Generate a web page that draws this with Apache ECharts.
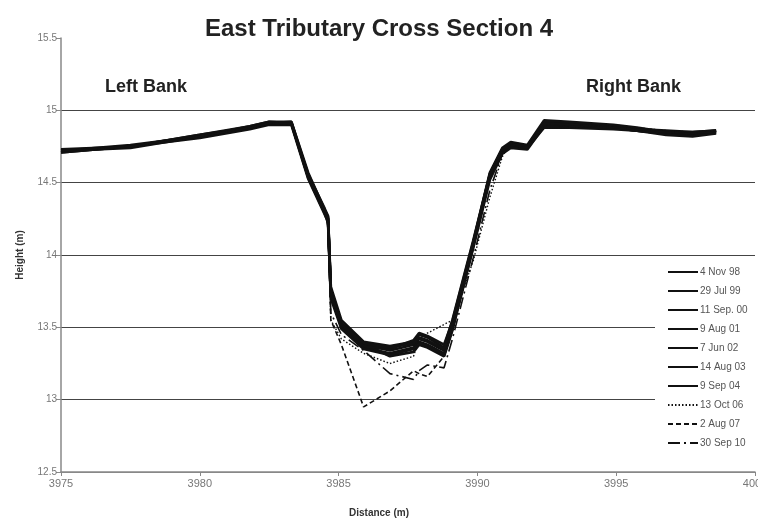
<!DOCTYPE html>
<html>
<head>
<meta charset="utf-8">
<script src="https://cdn.jsdelivr.net/npm/echarts@6/dist/echarts.min.js"></script>
<style>
  html, body { margin: 0; padding: 0; background: #fff; }
  #chart { width: 758px; height: 520px; }
</style>
</head>
<body>
<div id="chart"></div>
<script>
// Surveyed chainage across the channel (m)
const dist = [3975, 3977.5, 3980, 3981.8, 3982.5, 3983.3, 3983.9, 3984.5, 3984.62, 3984.72,
  3985.1, 3985.9, 3986.85, 3987.7, 3987.9, 3988.2, 3988.8, 3989.1, 3989.85, 3990.45,
  3990.9, 3991.2, 3991.8, 3992.4, 3993.3, 3994.9, 3995.75, 3996.8, 3997.75, 3998.6];

// Bed heights (m) for each survey
const nov98 = [14.72,14.75,14.82,14.88,14.91,14.91,14.55,14.30,14.25,13.75,13.52,13.38,13.34,13.38,13.42,13.40,13.34,13.52,14.08,14.55,14.72,14.76,14.74,14.91,14.90,14.88,14.86,14.84,14.84,14.85];
const jul99 = [14.71,14.75,14.83,14.89,14.92,14.92,14.57,14.31,14.26,13.78,13.55,13.40,13.37,13.40,13.45,13.43,13.36,13.55,14.10,14.56,14.73,14.77,14.75,14.92,14.91,14.89,14.87,14.85,14.84,14.86];
const sep00 = [14.72,14.76,14.82,14.88,14.91,14.91,14.54,14.29,14.24,13.72,13.50,13.36,13.32,13.36,13.40,13.38,13.32,13.50,14.06,14.54,14.71,14.75,14.74,14.90,14.90,14.88,14.86,14.84,14.83,14.85];
const aug01 = [14.73,14.75,14.81,14.87,14.90,14.90,14.53,14.28,14.23,13.76,13.53,13.39,13.30,13.33,13.38,13.36,13.30,13.48,14.05,14.52,14.70,14.74,14.73,14.89,14.89,14.88,14.87,14.86,14.85,14.86];
const jun02 = [14.72,14.74,14.82,14.89,14.92,14.91,14.56,14.32,14.27,13.74,13.51,13.37,13.35,13.41,13.46,13.44,13.38,13.54,14.09,14.57,14.74,14.78,14.76,14.93,14.92,14.90,14.88,14.85,14.84,14.85];
const aug03 = [14.71,14.75,14.83,14.88,14.91,14.92,14.55,14.30,14.25,13.70,13.49,13.35,13.31,13.35,13.39,13.37,13.31,13.49,14.07,14.55,14.72,14.76,14.75,14.91,14.90,14.88,14.86,14.83,14.82,14.84];
const sep04 = [14.72,14.75,14.82,14.88,14.91,14.91,14.54,14.29,14.22,13.73,13.52,13.39,13.36,13.39,13.43,13.41,13.35,13.51,14.08,14.56,14.73,14.77,14.74,14.88,14.88,14.87,14.86,14.85,14.85,14.86];
const oct06 = [14.72,14.75,14.82,14.88,14.91,14.90,14.55,14.30,14.22,13.55,13.42,13.32,13.25,13.30,13.42,13.46,13.52,13.55,13.96,14.40,14.68,14.78,14.76,14.88,14.88,14.90,14.88,14.86,14.85,14.86];
const aug07 = [14.72,14.75,14.82,14.88,14.91,14.91,14.55,14.30,14.20,13.55,13.38,12.95,13.06,13.20,13.18,13.16,13.30,13.48,14.05,14.55,14.72,14.76,14.74,14.90,14.89,14.88,14.87,14.85,14.84,14.86];
const sep10 = [14.72,14.75,14.82,14.88,14.91,14.91,14.55,14.30,14.22,13.60,13.45,13.34,13.18,13.14,13.20,13.24,13.22,13.42,13.98,14.45,14.70,14.77,14.75,14.89,14.89,14.88,14.87,14.85,14.84,14.85];

const surveyNames = ['4 Nov 98', '29 Jul 99', '11 Sep. 00', '9 Aug 01', '7 Jun 02',
  '14 Aug 03', '9 Sep 04', '13 Oct 06', '2 Aug 07', '30 Sep 10'];
const surveyHeights = [nov98, jul99, sep00, aug01, jun02, aug03, sep04, oct06, aug07, sep10];

// Axis ranges and ticks
const yTicks = [12.5, 13, 13.5, 14, 14.5, 15, 15.5];
const xTicks = [3975, 3980, 3985, 3990, 3995, 4000];

const sans = "'Liberation Sans', Arial, sans-serif";

const lineTypes = ['solid', 'solid', 'solid', 'solid', 'solid', 'solid', 'solid',
  [1.5, 2], [5, 3], [12, 4, 2, 4]];
const lineWidths = [2.7, 2.7, 2.7, 2.7, 2.7, 2.7, 2.7, 1.4, 1.6, 1.6];

const series = surveyNames.map((name, i) => ({
  name: name,
  type: 'line',
  data: dist.map((d, k) => [d, surveyHeights[i][k]]),
  showSymbol: false,
  symbol: 'none',
  smooth: false,
  silent: true,
  z: i >= 7 ? 3 : 2,
  lineStyle: { color: '#111', width: lineWidths[i], type: lineTypes[i] },
  itemStyle: { color: '#111' }
}));

const chart = echarts.init(document.getElementById('chart'), null, { renderer: 'canvas' });
chart.setOption({
  animation: false,
  backgroundColor: '#fff',
  title: {
    text: 'East Tributary Cross Section 4',
    left: 'center',
    top: 12,
    textStyle: { fontFamily: sans, fontSize: 24, fontWeight: 'bold', color: '#222' }
  },
  graphic: [
    { type: 'text', left: 105, top: 78, style: { text: 'Left Bank', fontFamily: sans, fontSize: 18, fontWeight: 'bold', fill: '#222' } },
    { type: 'text', left: 586, top: 78, style: { text: 'Right Bank', fontFamily: sans, fontSize: 18, fontWeight: 'bold', fill: '#222' } },
    { type: 'text', left: 'center', top: 508, style: { text: 'Distance (m)', fontFamily: sans, fontSize: 10, fontWeight: 'bold', fill: '#333' } }
  ],
  grid: { left: 61, right: 3, top: 38, bottom: 48, containLabel: false, outerBoundsMode: 'none' },
  legend: {
    orient: 'vertical',
    left: 655,
    top: 262,
    backgroundColor: '#fff',
    padding: [5, 30, 5, 12],
    itemWidth: 30,
    itemHeight: 10,
    itemGap: 9,
    data: surveyNames,
    itemStyle: { opacity: 0 },
    textStyle: { fontFamily: sans, fontSize: 10, color: '#555', padding: [0, 0, 0, -3] }
  },
  xAxis: {
    type: 'value',
    min: xTicks[0],
    max: xTicks[xTicks.length - 1],
    interval: 5,
    axisLine: { show: true, onZero: false, lineStyle: { color: '#888', width: 1.5 } },
    axisTick: { show: true, length: 4, lineStyle: { color: '#888' } },
    axisLabel: { fontFamily: sans, fontSize: 11, color: '#777', margin: 6, formatter: v => String(v) },
    splitLine: { show: false }
  },
  yAxis: {
    type: 'value',
    min: yTicks[0],
    max: yTicks[yTicks.length - 1],
    interval: 0.5,
    name: 'Height (m)',
    nameLocation: 'middle',
    nameGap: 36,
    nameRotate: 90,
    nameTextStyle: { fontFamily: sans, fontSize: 10, fontWeight: 'bold', color: '#333' },
    axisLine: { show: true, lineStyle: { color: '#888', width: 1.5 } },
    axisTick: { show: true, length: 5, lineStyle: { color: '#888' } },
    axisLabel: { fontFamily: sans, fontSize: 10, color: '#777', margin: 4, formatter: v => String(v) },
    splitLine: {
      show: true,
      lineStyle: { color: ['#888', '#444', '#444', '#444', '#444', '#444', 'rgba(0,0,0,0)'], width: 1 }
    }
  },
  series: series
});
</script>
</body>
</html>
